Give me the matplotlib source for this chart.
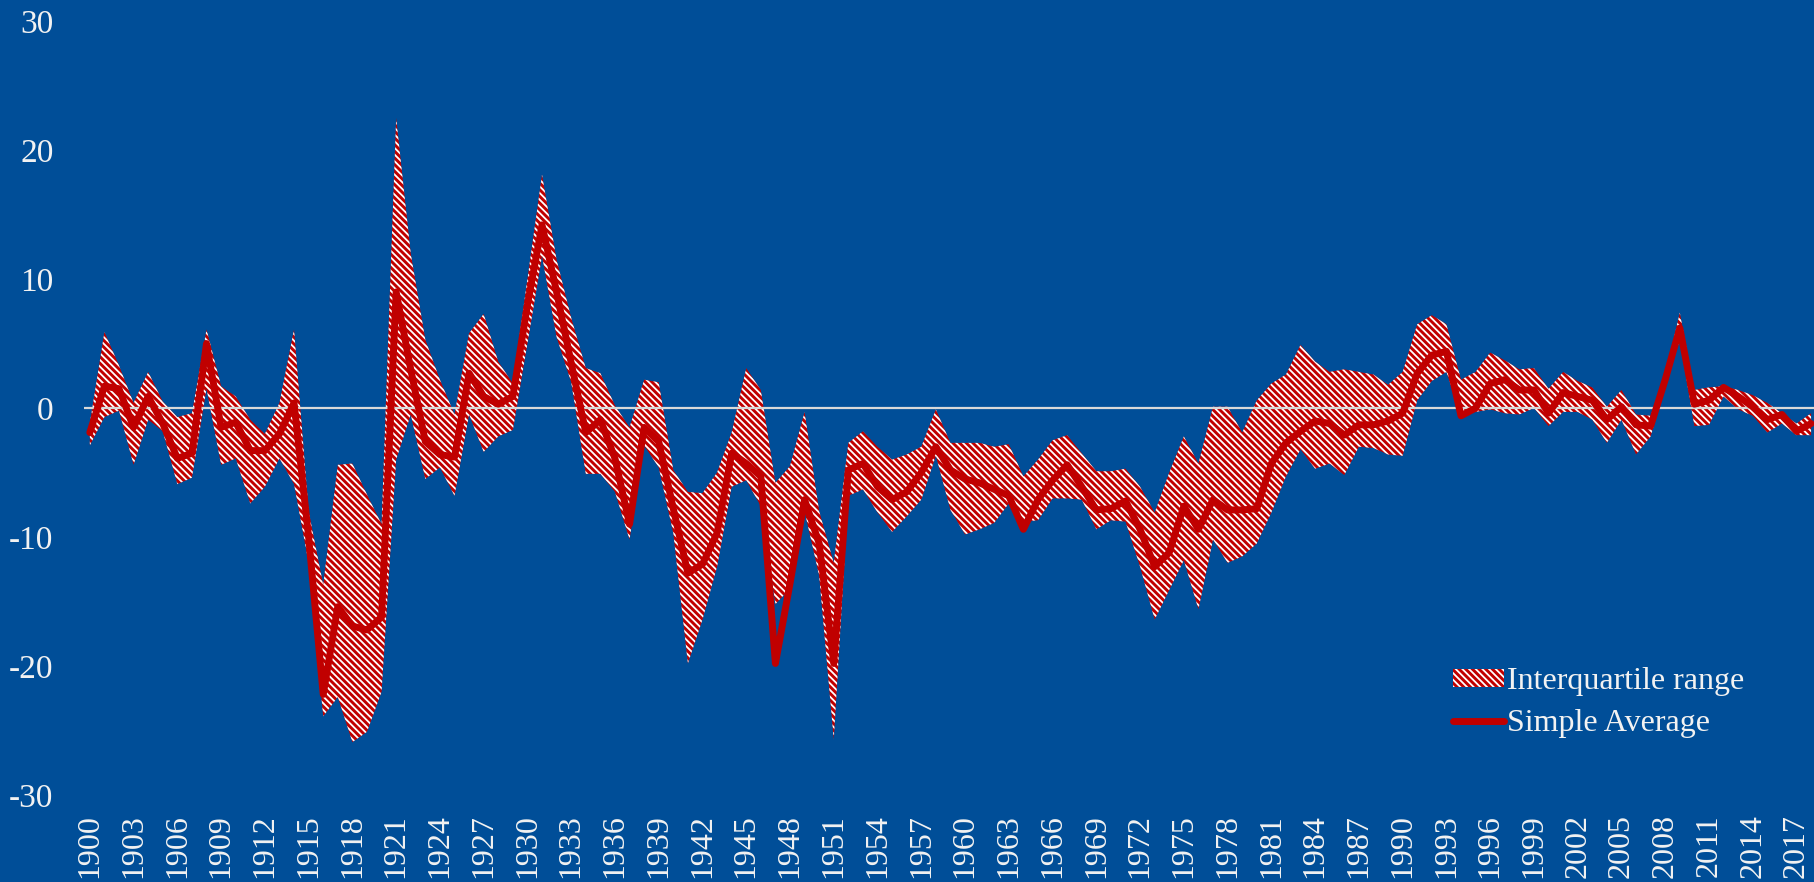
import matplotlib
matplotlib.use("Agg")
import matplotlib.pyplot as plt
from matplotlib.patches import Patch
from matplotlib.lines import Line2D

years = list(range(1900, 2019))

q75 = [-1.2, 5.9, 3.3, 0.4, 2.8, 0.5, -0.7, -0.4, 6.1, 1.7,
       0.9, -0.9, -2.0, 0.4, 6.1, -8.0, -13.7, -4.4, -4.3, -6.7,
       -9.0, 22.5, 12.0, 5.3, 2.2, -0.5, 5.8, 7.3, 3.6, 1.9,
       10.0, 18.1, 11.5, 7.0, 3.1, 2.7, 0.2, -1.5, 2.2, 2.0,
       -4.8, -6.5, -6.6, -5.0, -1.9, 3.1, 1.4, -5.8, -4.5, -0.3,
       -8.0, -12.0, -2.7, -1.8, -3.0, -4.0, -3.6, -3.0, -0.1, -2.7,
       -2.7, -2.7, -3.0, -2.8, -5.3, -4.0, -2.5, -2.1, -3.5, -4.9,
       -4.9, -4.7, -6.1, -8.1, -5.0, -2.2, -4.3, 0.1, 0.1, -1.9,
       0.6, 1.9, 2.6, 4.9, 3.6, 2.8, 3.0, 2.8, 2.6, 1.8,
       2.8, 6.5, 7.2, 6.5, 2.2, 2.8, 4.3, 3.7, 3.0, 3.1,
       1.5, 2.8, 2.1, 1.6, 0.1, 1.4, -0.5, -0.6, 2.5, 7.4,
       1.4, 1.6, 1.7, 1.4, 1.0, 0.4, -0.4, -1.2, -0.4]

mean = [-1.9, 1.7, 1.5, -1.5, 0.9, -1.2, -3.9, -3.5, 5.0, -1.5,
        -1.1, -3.3, -3.3, -2.0, 0.4, -10.0, -22.2, -15.4, -16.9, -17.2,
        -16.2, 9.0, 3.0, -2.6, -3.6, -3.8, 2.7, 0.9, 0.3, 0.9,
        8.0, 14.2, 9.0, 3.5, -1.9, -0.9, -3.9, -9.0, -1.5, -2.6,
        -7.8, -12.8, -12.1, -9.7, -3.5, -4.3, -5.3, -19.8, -13.6, -7.1,
        -10.5, -19.8, -4.8, -4.3, -6.1, -7.1, -6.5, -5.0, -3.0, -4.8,
        -5.5, -5.8, -6.3, -6.8, -9.4, -7.1, -5.6, -4.4, -6.1, -7.9,
        -7.8, -7.2, -9.4, -12.3, -11.2, -7.6, -9.4, -7.1, -7.9, -7.9,
        -7.8, -4.3, -2.7, -1.8, -1.0, -1.2, -2.1, -1.3, -1.3, -1.0,
        -0.4, 2.7, 4.1, 4.4, -0.6, 0.0, 1.9, 2.2, 1.4, 1.4,
        -0.4, 1.2, 0.9, 0.6, -0.9, 0.1, -1.3, -1.4, 2.2, 6.2,
        0.3, 0.6, 1.6, 0.9, 0.1, -0.9, -0.5, -1.8, -1.2]

q25 = [-2.9, -0.7, -0.2, -4.4, -0.9, -1.8, -5.9, -5.4, 1.5, -4.4,
       -3.9, -7.4, -6.1, -3.9, -5.9, -12.0, -23.9, -22.4, -25.9, -25.1,
       -22.0, -4.0, -0.5, -5.5, -4.6, -6.8, -0.5, -3.4, -2.2, -1.7,
       5.0, 11.8, 5.5, 2.0, -5.1, -5.1, -6.5, -10.2, -2.9, -4.6,
       -9.7, -19.8, -16.4, -12.3, -6.1, -5.6, -7.6, -15.2, -14.0, -8.0,
       -13.0, -25.7, -6.8, -6.3, -8.1, -9.6, -8.4, -7.1, -3.7, -7.9,
       -9.8, -9.4, -8.9, -7.4, -8.8, -8.7, -7.0, -7.0, -7.1, -9.4,
       -8.7, -8.8, -12.3, -16.4, -14.1, -11.8, -15.6, -10.2, -12.0, -11.5,
       -10.5, -8.1, -5.3, -3.2, -4.7, -4.3, -5.2, -3.0, -3.1, -3.6,
       -3.7, 0.6, 2.1, 2.8, -0.5, -0.3, -0.1, -0.4, -0.5, 0.0,
       -1.4, -0.3, -0.3, -0.9, -2.7, -0.9, -3.6, -2.2, 1.7, 5.3,
       -1.4, -1.3, 0.9, -0.1, -0.6, -1.9, -1.2, -2.1, -2.1]

yticks = [-30, -20, -10, 0, 10, 20, 30]
xticks = list(range(1900, 2018, 3))
labels = ["Interquartile range", "Simple Average"]

BG = "#004E98"
RED = "#C00000"
TXT = "#F2F2F2"
HATCH = "\\" * 5

plt.rcParams["hatch.linewidth"] = 1.3
plt.rcParams["font.family"] = ["Liberation Serif", "DejaVu Serif"]

fig = plt.figure(figsize=(18.14, 8.82), dpi=100, facecolor=BG)
ax = fig.add_axes([0.0463, 0.0986, 0.9537, 0.8775])
ax.set_facecolor(BG)

ax.fill_between(years, q25, q75, facecolor=RED, edgecolor="white",
                hatch=HATCH, linewidth=0, zorder=2)
ax.axhline(0, color="#D9D9D9", linewidth=1.6, zorder=3)
ax.plot(years, mean, color=RED, linewidth=5, zorder=4,
        solid_joinstyle="round", solid_capstyle="round")

ax.set_xlim(1899.6, 2018.2)
ax.set_ylim(-30, 30)
ax.set_yticks(yticks)
ax.set_yticklabels([str(v) for v in yticks], fontsize=24, color=TXT)
ax.set_xticks(xticks)
ax.set_xticklabels([str(v) for v in xticks], rotation=90, fontsize=23, color=TXT)
ax.tick_params(axis="both", length=0)
ax.tick_params(axis="y", pad=22)
ax.tick_params(axis="x", pad=14)
for s in ax.spines.values():
    s.set_visible(False)

handles = [Patch(facecolor=RED, edgecolor="white", hatch=HATCH, linewidth=0),
           Line2D([0], [0], color=RED, linewidth=5, solid_capstyle="round")]
leg = ax.legend(handles, labels, loc="upper left",
                bbox_to_anchor=(1453 / 1814, 1 - 667 / 882),
                bbox_transform=fig.transFigure, frameon=False,
                fontsize=23, handlelength=1.6, handleheight=0.5,
                handletextpad=0.1, labelspacing=0.42, borderpad=0,
                borderaxespad=0)
for t in leg.get_texts():
    t.set_color(TXT)

fig.savefig("out.png", dpi=100, facecolor=BG)
